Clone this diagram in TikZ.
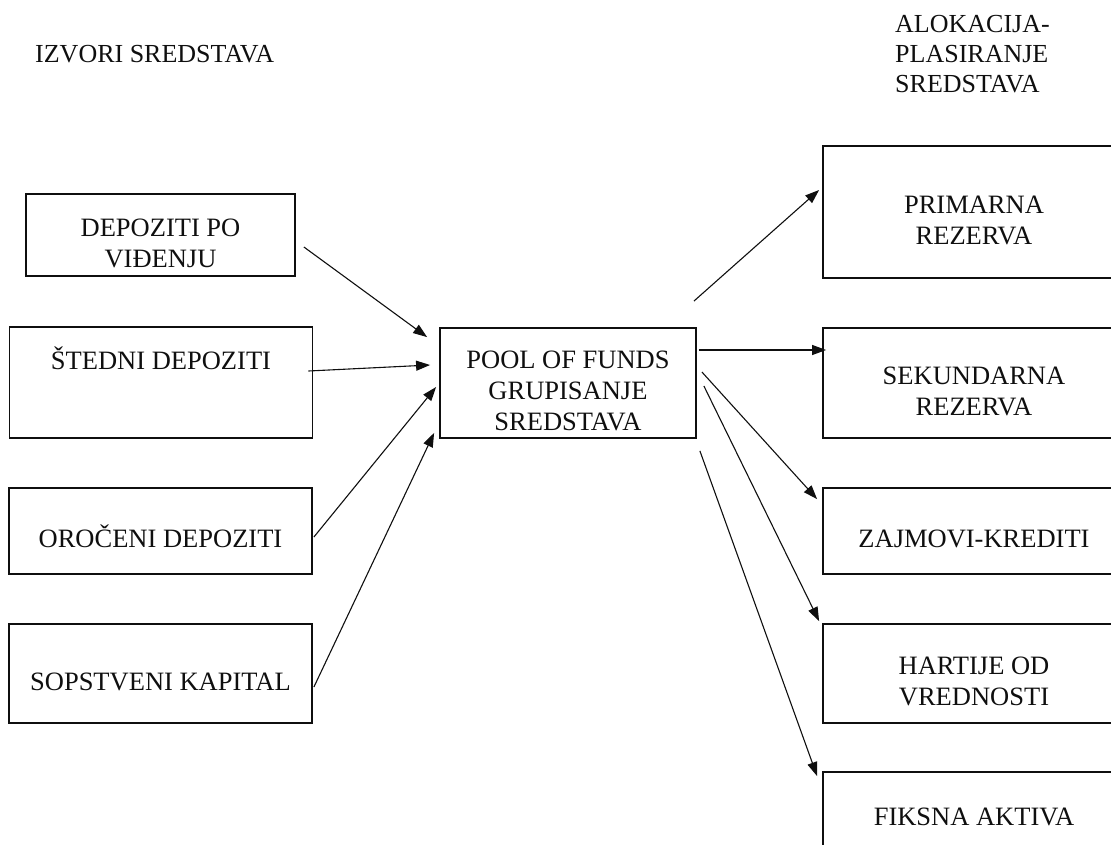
\documentclass[tikz,border=0pt]{standalone}
\usepackage{fontspec}
\setmainfont{Liberation Serif}
\usetikzlibrary{arrows.meta,calc}
\definecolor{ink}{RGB}{15,15,15}
\tikzset{
  every picture/.style={color=ink, x=1pt, y=-1pt},
  box/.style={draw=ink, line width=1.8pt, inner sep=0pt, align=center, font=\fontsize{26.5}{31}\selectfont, text depth=0pt},
  one/.style={box, text height=33.5pt},
  two/.style={box, text height=64.5pt},
  three/.style={box, text height=95.5pt},
  side/.style={minimum width=303pt},
  goal/.style={minimum width=302pt},
  head/.style={font=\fontsize{26}{30}\selectfont, align=left, inner sep=0pt, anchor=west},
  flow/.style={-{Triangle[length=14pt,width=10pt]}, line width=1.1pt},
}

\begin{document}
\begin{tikzpicture}
  \useasboundingbox (0,0) rectangle (1111,844);
  \node[head] (izvori) at (35,54) {IZVORI SREDSTAVA};
  \node[head] (alokacija) at (895,54) {ALOKACIJA-\\PLASIRANJE\\SREDSTAVA};
  \node[two, minimum width=269pt, minimum height=82pt] (vid) at (160.5,235) {DEPOZITI PO\\VIĐENJU};
  \node[box, side, minimum height=111pt, text height=17.5pt, text depth=43pt] (ste) at (161,382.5) {ŠTEDNI DEPOZITI};
  \node[one, side, minimum height=86pt] (oro) at (160.5,531) {OROČENI DEPOZITI};
  \node[one, side, minimum height=99pt] (sop) at (160.5,673.5) {SOPSTVENI KAPITAL};
  \node[three, minimum width=256pt, minimum height=110pt] (pool) at (568,383) {POOL OF FUNDS\\GRUPISANJE\\SREDSTAVA};
  \node[two, goal, minimum height=132pt] (pri) at (974,212) {PRIMARNA\\REZERVA};
  \node[two, goal, minimum height=110pt] (sek) at (974,383) {SEKUNDARNA\\REZERVA};
  \node[one, goal, minimum height=86pt] (zaj) at (974,531) {ZAJMOVI-KREDITI};
  \node[two, goal, minimum height=99pt] (har) at (974,673.5) {HARTIJE OD\\VREDNOSTI};
  \node[one, goal, minimum height=74pt] (fik) at (974,809) {FIKSNA AKTIVA};
  \draw[flow] ($(vid.east)+(8,12)$) -- ($(pool.north west)+(-12,10)$);
  \draw[flow] ($(ste.east)+(-5,-11.5)$) -- ($(pool.west)+(-9,-18)$);
  \draw[flow] ($(oro.east)+(1,6)$) -- ($(pool.west)+(-3,4)$);
  \draw[flow] ($(sop.east)+(1,13.5)$) -- ($(pool.south west)+(-5,-6)$);
  \draw[flow] ($(pool.north east)+(-3,-26)$) -- ($(pri.west)+(-3,-22)$);
  \draw[flow] ($(pool.east)+(2,-33)$) -- ($(sek.west)+(4,-33)$);
  \draw[flow] ($(pool.east)+(5,-11)$) -- ($(zaj.north west)+(-5,12)$);
  \draw[flow] ($(pool.east)+(7,3)$) -- ($(har.north west)+(-3,-2)$);
  \draw[flow] ($(pool.south east)+(3,12)$) -- ($(fik.north west)+(-5,5)$);
\end{tikzpicture}
\end{document}
